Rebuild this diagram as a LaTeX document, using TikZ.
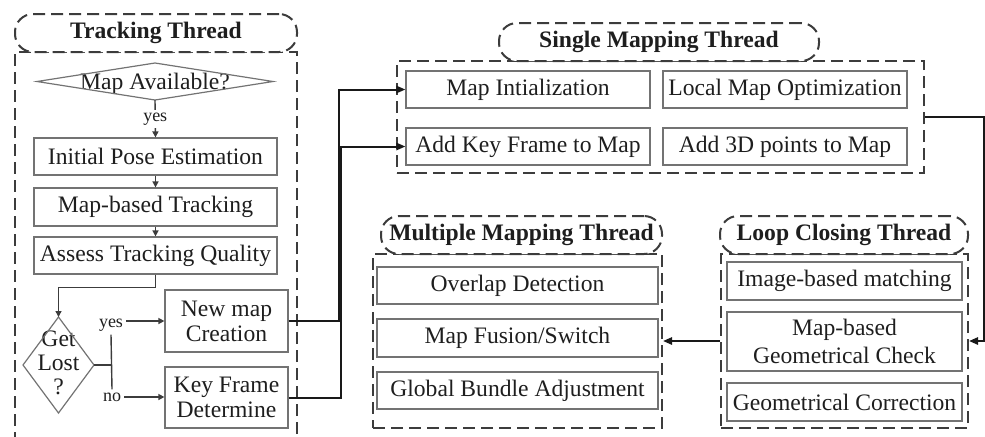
\documentclass[tikz,border=0pt]{standalone}
\usepackage{fontspec}
\setmainfont{Liberation Serif}
\usetikzlibrary{arrows.meta,calc}
\definecolor{txt}{RGB}{30,30,30}
\definecolor{bline}{RGB}{115,115,115}
\definecolor{dline}{RGB}{60,60,60}
\begin{document}
\begin{tikzpicture}[x=0.5pt,y=-0.5pt,
  box/.style={draw=bline, line width=0.6pt, inner sep=1pt, align=center, text=txt,
    font=\fontsize{11.8}{12.5}\selectfont},
  plaintext/.style={inner sep=1pt, align=center, text=txt, font=\fontsize{11.8}{12}\selectfont},
  outerbox/.style={draw=dline, line width=1pt, dash pattern=on 6pt off 3pt, inner sep=0pt},
  titlebox/.style={draw=dline, line width=1pt, dash pattern=on 6pt off 3pt, rounded corners=9pt,
    inner sep=0pt, fill=white, text=txt, font=\bfseries\fontsize{11.8}{12.5}\selectfont},
  lbl/.style={font=\fontsize{9}{10}\selectfont, text=txt, inner sep=1.5pt},
  shapeline/.style={draw=bline, line width=0.6pt},
  flowline/.style={draw=dline, line width=0.7pt},
  flow/.style={flowline, -{Triangle[length=3pt,width=3pt]}},
  conn/.style={draw=black!90, line width=1pt, -{Triangle[length=4.5pt,width=3.6pt]}}
]
\useasboundingbox (0,0) rectangle (985,436);
\clip (0,0) rectangle (985,436);

% ---------- Tracking thread ----------
\node[outerbox, minimum width=141pt, minimum height=194pt] (trackO) at (156,246) {};
\node[titlebox, minimum width=141pt, minimum height=19pt] (trackT) at (156,33) {Tracking Thread};

\node[plaintext] (mapav) at (155,84) {Map Available?};
\coordinate (mapavC) at (155,81.5);
\draw[shapeline] ($(mapavC)+(-118,0)$) -- ($(mapavC)+(0,-18.5)$) -- ($(mapavC)+(118,0)$) -- ($(mapavC)+(0,18.5)$) -- cycle;
\coordinate (mapavS) at ($(mapavC)+(0,18.5)$);

\node[box, minimum width=121.5pt, minimum height=18.5pt] (init) at (155.5,156.5) {Initial Pose Estimation};
\node[box, minimum width=121.5pt, minimum height=19pt] (mbt) at (155.5,207) {Map-based Tracking};
\node[box, minimum width=121.5pt, minimum height=18.5pt] (assess) at (155.5,255.5) {Assess Tracking Quality};

\coordinate (lostC) at (58.5,365);
\node[plaintext] (lostT) at (58.5,363) {Get\\Lost\\?};
\draw[shapeline] ($(lostC)+(-35.5,0)$) -- ($(lostC)+(0,-48)$) -- ($(lostC)+(35.5,0)$) -- ($(lostC)+(0,48)$) -- cycle;
\coordinate (lostN) at ($(lostC)+(0,-48)$);
\coordinate (lostE) at ($(lostC)+(35.5,0)$);

\node[box, minimum width=61.5pt, minimum height=31pt] (newmap) at (226.5,321) {New map\\Creation};
\node[box, minimum width=61.5pt, minimum height=30.5pt] (keyf) at (226.5,397.5) {Key Frame\\Determine};

\node[lbl] (yesL) at (111,325) {yes};
\node[lbl] (noL) at (112,397) {no};

\draw[flow] (mapavS) -- node[lbl, fill=white] (yesTop) {yes} (init.north);
\draw[flow] (init) -- (mbt);
\draw[flow] (mbt) -- (assess);
\draw[flow] (assess.south) -- ++(0,13) -| (lostN);
\draw[flowline] (lostE) -- (lostE -| yesL.south);
\draw[flowline] (yesL.south) -- (noL.north);
\draw[flow] (yesL.east |- newmap.west) -- (newmap.west);
\draw[flow] (noL.east) -- (noL.east -| keyf.west);

% ---------- Single mapping thread ----------
\node[outerbox, minimum width=263.5pt, minimum height=56pt] (singleO) at (660.5,117) {};
\node[titlebox, minimum width=160pt, minimum height=19pt] (singleT) at (659,42) {Single Mapping Thread};
\node[box, minimum width=122pt, minimum height=18.5pt] (mapinit) at (528,89.5) {Map Intialization};
\node[box, minimum width=122pt, minimum height=18.5pt] (localopt) at (785,89.5) {Local Map Optimization};
\node[box, minimum width=122pt, minimum height=18.5pt] (addkf) at (528,146.5) {Add Key Frame to Map};
\node[box, minimum width=122pt, minimum height=18.5pt] (add3d) at (785,146.5) {Add 3D points to Map};

% ---------- Multiple mapping thread ----------
\node[outerbox, minimum width=144.5pt, minimum height=87pt] (multiO) at (517.5,341) {};
\node[titlebox, minimum width=140.5pt, minimum height=19pt] (multiT) at (521.5,235) {Multiple Mapping Thread};
\node[box, minimum width=140.5pt, minimum height=18.5pt] (overlap) at (517.5,285.5) {Overlap Detection};
\node[box, minimum width=140.5pt, minimum height=19pt] (fusion) at (517.5,338) {Map Fusion/Switch};
\node[box, minimum width=140.5pt, minimum height=18.5pt] (gba) at (517.5,390.5) {Global Bundle Adjustment};

% ---------- Loop closing thread ----------
\node[outerbox, minimum width=123.5pt, minimum height=87pt] (loopO) at (844.5,341) {};
\node[titlebox, minimum width=124pt, minimum height=19pt] (loopT) at (844,235) {Loop Closing Thread};
\node[box, minimum width=117.5pt, minimum height=19pt] (imgmatch) at (844.5,281) {Image-based matching};
\node[box, minimum width=117.5pt, minimum height=29.5pt, font=\fontsize{11.8}{14}\selectfont] (geocheck) at (844.5,341.5) {Map-based\\Geometrical Check};
\node[box, minimum width=117.5pt, minimum height=19pt] (geocorr) at (844.5,402) {Geometrical Correction};

% ---------- connectors between threads ----------
\draw[conn] (newmap.east) -- ++(50,0) |- (mapinit.west);
\draw[conn] (keyf.east) -- ++(52,0) |- (addkf.west);
\draw[conn] (singleO.east) -- ++(59,0) |- (loopO.east);
\draw[conn] (loopO.west) -- (multiO.east);
\end{tikzpicture}
\end{document}
